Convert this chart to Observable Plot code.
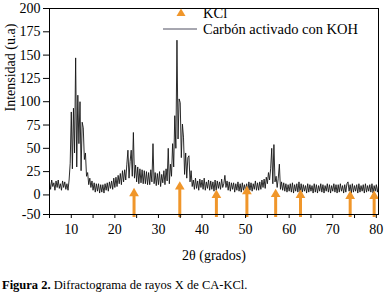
<!DOCTYPE html>
<html>
<head>
<meta charset="utf-8">
<script src="https://cdn.jsdelivr.net/npm/d3@7"></script>
<script src="https://cdn.jsdelivr.net/npm/@observablehq/plot@0.6"></script>
<style>
  html, body { margin: 0; padding: 0; background: #fff; }
  #wrap { position: relative; width: 386px; height: 296px; font-family: "Liberation Serif", "DejaVu Serif", serif; }
  #chart svg, #chart svg text { font-family: "Liberation Serif", "DejaVu Serif", serif !important; }
  #legend { position: absolute; left: 160px; top: 5px; font-size: 14.5px; line-height: 16px; color: #000; }
  #legend .row { display: flex; align-items: center; height: 16px; }
  #legend svg { margin-right: 5px; }
  #caption { position: absolute; left: 2px; top: 278px; font-size: 12.5px; color: #000; white-space: nowrap; }
</style>
</head>
<body>
<div id="wrap">
  <div id="chart"></div>
  <div id="legend">
    <div class="row"><svg width="38" height="14"><path d="M21,2.5 L25.5,10 L16.5,10 Z" fill="#f0962a"/></svg>KCl</div>
    <div class="row"><svg width="38" height="14"><line x1="3" y1="7" x2="37" y2="7" stroke="#4e4e60" stroke-width="1"/></svg>Carbón activado con KOH</div>
  </div>
  <div id="caption"><b>Figura 2.</b> Difractograma de rayos X de CA-KCl.</div>
</div>
<script>
// Scan parameters (2θ, degrees)
const scanStart = 5;
const scanStep = 0.25;

// Intensity (u.a), 4 points per degree, from 5.00° to 80.50°
const intensity = [
  14, 6, 16, 9,      // 5
  13, 5, 15, 8,      // 6
  16, 7, 12, 5,      // 7
  15, 8, 14, 6,      // 8
  12, 5, 16, 34,     // 9
  89, 28, 93, 45,    // 10
  147, 30, 107, 55,  // 11
  100, 26, 78, 72,   // 12
  38, 45, 20, 24,    // 13
  11, 18, 8, 15,     // 14
  5, 13, 3, 12,      // 15
  4, 12, 2, 11,      // 16
  3, 11, 2, 12,      // 17
  5, 13, 4, 14,      // 18
  7, 15, 6, 18,      // 19
  8, 19, 9, 21,      // 20
  12, 23, 11, 26,    // 21
  14, 27, 16, 33,    // 22
  48, 18, 36, 48,    // 23
  20, 67, 18, 32,    // 24
  14, 30, 12, 28,    // 25
  13, 27, 12, 26,    // 26
  12, 25, 11, 24,    // 27
  11, 27, 14, 55,    // 28
  12, 24, 10, 23,    // 29
  11, 25, 9, 22,     // 30
  13, 26, 11, 28,    // 31
  15, 50, 12, 33,    // 32
  20, 55, 30, 85,    // 33
  50, 166, 60, 103,  // 34
  99, 40, 76, 62,    // 35
  22, 45, 18, 40,    // 36
  42, 14, 26, 9,     // 37
  16, 6, 18, 7,      // 38
  15, 5, 17, 8,      // 39
  16, 6, 18, 5,      // 40
  14, 7, 16, 5,      // 41
  15, 6, 14, 4,      // 42
  16, 5, 15, 7,      // 43
  14, 6, 17, 8,      // 44
  12, 21, 8, 15,     // 45
  5, 14, 4, 13,      // 46
  6, 13, 3, 12,      // 47
  5, 14, 4, 12,      // 48
  3, 13, 5, 11,      // 49
  4, 12, 3, 14,      // 50
  5, 13, 4, 12,      // 51
  6, 15, 5, 13,      // 52
  5, 14, 6, 16,      // 53
  8, 17, 7, 19,      // 54
  12, 24, 16, 28,    // 55
  50, 12, 54, 14,    // 56
  20, 8, 18, 33,     // 57
  6, 14, 5, 13,      // 58
  4, 12, 3, 11,      // 59
  4, 12, 3, 13,      // 60
  2, 11, 4, 12,      // 61
  3, 14, 2, 12,      // 62
  3, 11, 4, 10,      // 63
  2, 12, 3, 11,      // 64
  4, 10, 2, 12,      // 65
  3, 11, 2, 10,      // 66
  4, 12, 3, 11,      // 67
  2, 10, 4, 12,      // 68
  3, 11, 2, 10,      // 69
  4, 12, 3, 11,      // 70
  2, 11, 3, 12,      // 71
  4, 10, 2, 11,      // 72
  3, 12, 14, 4,      // 73
  11, 2, 12, 3,      // 74
  10, 4, 11, 2,      // 75
  12, 3, 10, 4,      // 76
  11, 2, 12, 3,      // 77
  10, 4, 11, 3,      // 78
  12, 2, 10, 4,      // 79
  11, 3, 10          // 80
];

// KCl reference reflections (arrows): angle and arrow tip intensity
const kclAngle = [24.4, 34.9, 43.3, 50.3, 56.9, 62.6, 74.0, 79.5];
const kclTip   = [6, 13, 4, 8, 5, 4, 3, 3];

// Axes
const xDomain = [5, 80.5];
const yDomain = [-21, 200];
const xMajorTicks = [10, 20, 30, 40, 50, 60, 70, 80];
const xMinorTicks = [5, 15, 25, 35, 45, 55, 65, 75];
const yTickValues = [-21, 0, 25, 50, 75, 100, 125, 150, 175, 200];
const yTickLabels = ["-50", "0", "25", "50", "75", "100", "125", "150", "175", "200"];

const spectrum = intensity.map((v, i) => ({angle: scanStart + i * scanStep, value: v}));
const kcl = kclAngle.map((a, i) => ({angle: a, tip: kclTip[i], base: yDomain[0]}));

const orange = "#f0962a";
const serif = "Liberation Serif, serif";

const chart = Plot.plot({
  width: 386,
  height: 272,
  marginLeft: 49,
  marginRight: 8,
  marginTop: 8,
  marginBottom: 58,
  style: {fontFamily: serif, fontSize: "14px", color: "#000", background: "#fff"},
  x: {type: "linear", domain: xDomain},
  y: {type: "linear", domain: yDomain},
  marks: [
    Plot.line(spectrum, {x: "angle", y: "value", stroke: "#151515", strokeWidth: 0.9, clip: true}),
    Plot.ruleX(kcl, {x: "angle", y1: "base", y2: "tip", stroke: orange, strokeWidth: 3, dy: 3}),
    Plot.dot(kcl, {x: "angle", y: "tip", symbol: "triangle", r: 3.6, fill: orange, stroke: "none", dy: 4}),
    Plot.frame({stroke: "#000", strokeWidth: 1}),
    Plot.axisY({ticks: yTickValues, tickFormat: d => yTickLabels[yTickValues.indexOf(d)], tickSize: 6, tickPadding: 3, label: null, fontSize: 14, fontFamily: serif}),
    Plot.axisX({ticks: xMajorTicks, tickSize: 4, tickPadding: 6, label: null, fontSize: 14, fontFamily: serif}),
    Plot.axisX({ticks: xMinorTicks, tickSize: 4, tickFormat: () => "", label: null}),
    Plot.text(["2θ (grados)"], {frameAnchor: "bottom", dy: 45, text: d => d, fontSize: 14, fontFamily: serif, fill: "#000"}),
    Plot.text(["Intensidad (u.a)"], {frameAnchor: "left", dx: -39, rotate: -90, text: d => d, fontSize: 14, fontFamily: serif, fill: "#000"})
  ]
});
document.getElementById("chart").appendChild(chart);
</script>
</body>
</html>
